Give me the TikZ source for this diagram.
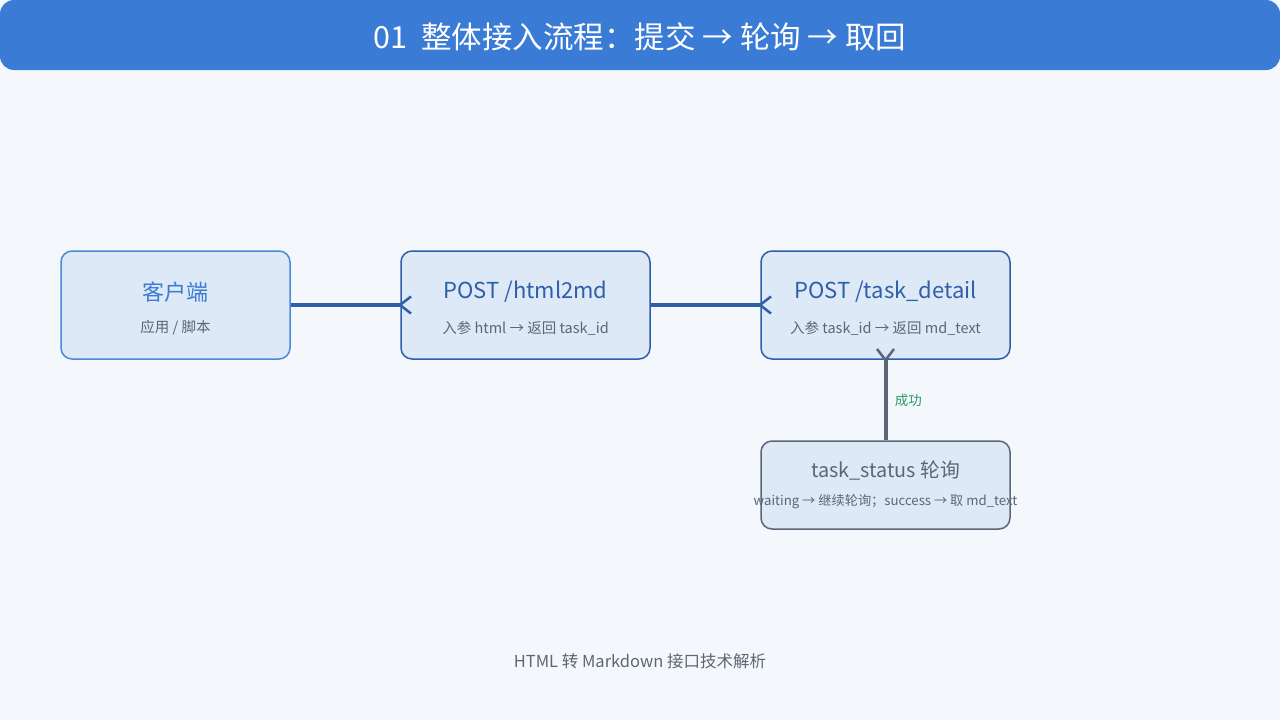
\documentclass[tikz,border=0pt]{standalone}
\usepackage{fontspec}
\setmainfont{Noto Sans CJK SC}
\usetikzlibrary{arrows.meta}

\definecolor{pagebg}{HTML}{F4F8FD}
\definecolor{barblue}{HTML}{3A7BD5}
\definecolor{boxfill}{HTML}{DEE9F7}
\definecolor{clientblue}{HTML}{4A89D6}
\definecolor{apiblue}{HTML}{2F5FA8}
\definecolor{subgray}{HTML}{5F6673}
\definecolor{pollgray}{HTML}{5B6678}
\definecolor{okgreen}{HTML}{2E9A6A}

\tikzset{
  box/.style={draw, fill=boxfill, line width=1.5pt, rounded corners=11pt,
    minimum width=249pt, minimum height=108pt, inner sep=0pt},
  boxtitle/.style={font=\fontsize{22}{26}\selectfont, inner sep=0pt},
  boxsub/.style={font=\fontsize{14.5}{17}\selectfont, text=subgray, inner sep=0pt},
  flow/.style={line width=3.5pt, shorten >=-12pt,
    -{Straight Barb[reversed,length=11pt,width=17pt,line width=2.5pt]}}
}

\begin{document}
\begin{tikzpicture}[x=1pt,y=-1pt]
\fill[pagebg] (0,0) rectangle (1280,720);
\useasboundingbox (0,0) rectangle (1280,720);

% title bar
\fill[barblue, rounded corners=14pt] (0,0) rectangle (1280,70);
\node (title) at (640,37) [text=white, font=\fontsize{30.5}{34}\selectfont]
  {01\ \ 整体接入流程：提交 → 轮询 → 取回};

% boxes
\node (client) at (175.5,305) [box, draw=clientblue, minimum width=229pt] {};
\node (submit) at (525.5,305) [box, draw=apiblue] {};
\node (detail) at (885.5,305) [box, draw=apiblue] {};
\node (status) at (885.5,485) [box, draw=pollgray, minimum height=88pt] {};

\node (clienttitle) at (175.5,292) [boxtitle, text=barblue] {客户端};
\node (clientsub) at (175.5,328) [boxsub] {应用 / 脚本};
\node (submittitle) at (525.5,292) [boxtitle, text=apiblue] {POST /html2md};
\node (submitsub) at (525.5,328) [boxsub] {入参 html → 返回 task\_id};
\node (detailtitle) at (885.5,292) [boxtitle, text=apiblue] {POST /task\_detail};
\node (detailsub) at (885.5,328) [boxsub] {入参 task\_id → 返回 md\_text};
\node (statustitle) at (885.5,471) [font=\fontsize{19.8}{23}\selectfont, text=pollgray, inner sep=0pt] {task\_status 轮询};
\node (statussub) at (885.5,502) [font=\fontsize{13.2}{16}\selectfont, text=subgray, inner sep=0pt]
  {waiting → 继续轮询；success → 取 md\_text};

% connectors
\draw[flow, apiblue] (client.east) -- (submit.west);
\draw[flow, apiblue] (submit.east) -- (detail.west);
\draw[flow, pollgray, line width=4pt] (status.north) -- (detail.south)
  node[pos=0.5, right=4pt, text=okgreen, font=\fontsize{13.5}{16}\selectfont] (oklabel) {成功};

% footer
\node (footer) at (640,661) [text=subgray, font=\fontsize{16.5}{19}\selectfont] {HTML 转 Markdown 接口技术解析};
\end{tikzpicture}
\end{document}
